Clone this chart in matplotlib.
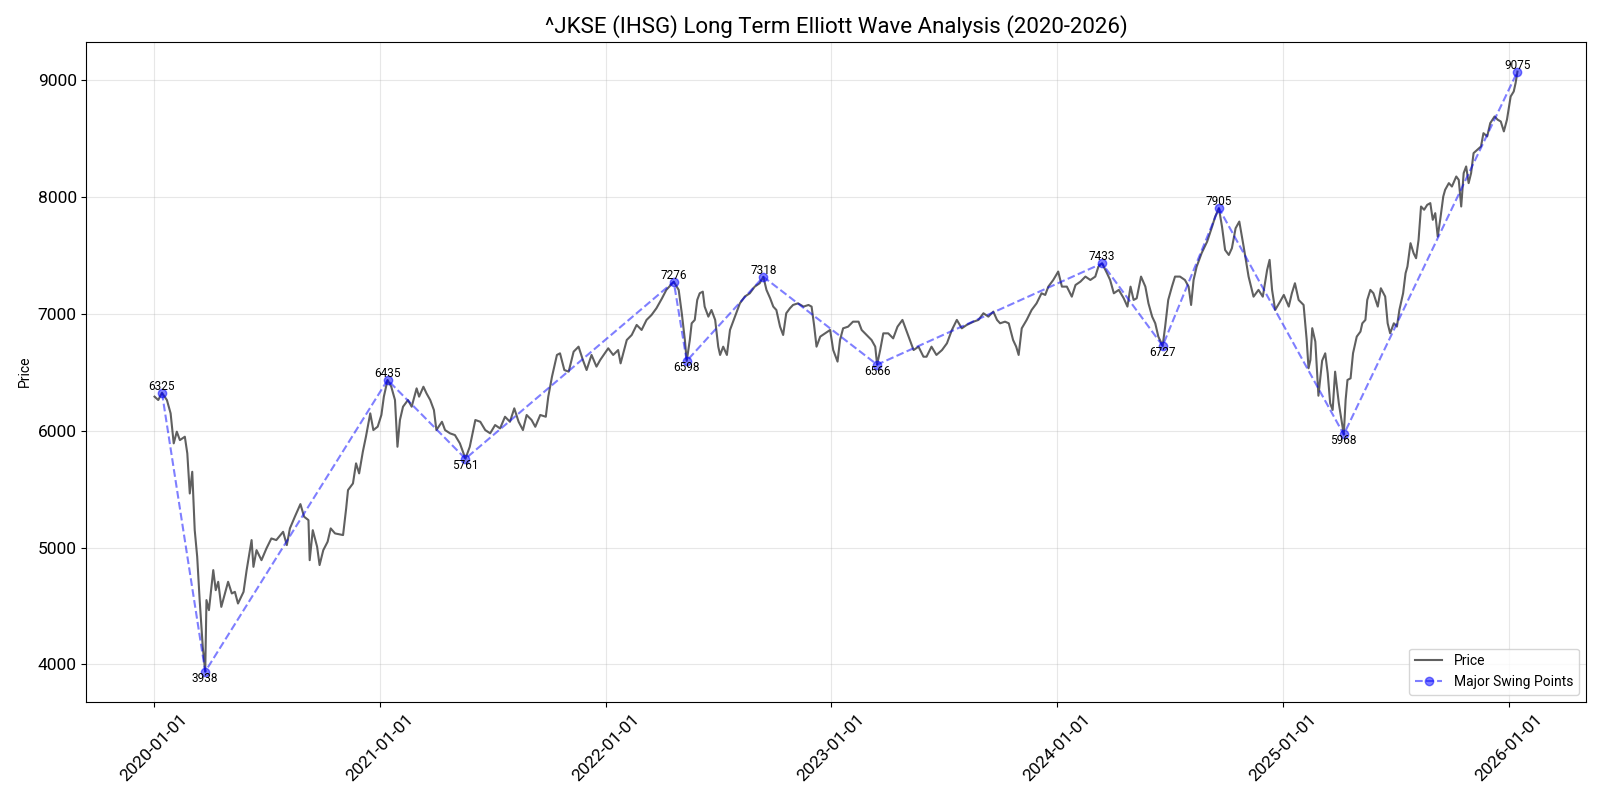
import pandas as pd
import matplotlib
matplotlib.use("Agg")
import matplotlib.pyplot as plt
import matplotlib.dates as mdates

plt.rcParams['font.family'] = ['Roboto', 'DejaVu Sans']

# price readings: days counted from 2020-01-01, closing level
start_date = "2020-01-01"
day_offset = [
    1, 7, 13, 21, 27, 32, 37, 42, 50, 54, 58, 62, 66, 70, 74, 79, 83, 85, 89, 96,
    100, 104, 109, 120, 126, 131, 136, 145, 150, 158, 161, 166, 174, 182, 190, 198,
    209, 215, 220, 228, 237, 243, 250, 252, 257, 264, 268, 274, 281, 286, 293, 306,
    311, 314, 322, 327, 332, 338, 343, 350, 355, 362, 368, 372, 378,
    384, 390, 394, 398, 403, 411, 417, 425, 429, 436, 441, 447, 453, 457, 466, 471,
    479, 487, 495, 504, 511, 520, 528, 536, 544, 552, 560, 568, 576, 583, 590, 597,
    603, 611, 617, 625, 634, 638, 644, 652, 657, 664, 671, 679, 687, 694, 700, 708,
    716, 722, 735, 743, 751, 755, 765, 773, 781, 789, 797, 805, 813, 822, 829, 841,
    849, 854, 859, 862, 867, 870, 875, 879, 883, 888, 891, 897, 902, 908, 913, 916,
    921, 927, 932, 940, 948, 956, 964, 972, 980, 986, 991, 997, 1002, 1007, 1013,
    1018, 1023, 1029, 1034, 1042, 1051, 1059, 1064, 1068, 1072, 1078, 1086, 1094,
    1099, 1106, 1110, 1115, 1123, 1131, 1140, 1145, 1153, 1161, 1167, 1170, 1175,
    1180, 1188, 1196, 1203, 1211, 1218, 1223, 1229, 1237, 1245, 1250, 1258, 1266,
    1275, 1283, 1291, 1299, 1307, 1315, 1326, 1334, 1342, 1350, 1358, 1364, 1369,
    1377, 1383, 1390, 1395, 1399, 1404, 1412, 1420, 1428, 1436, 1442, 1447, 1455,
    1463, 1469, 1477, 1485, 1491, 1499, 1507, 1515, 1523, 1528, 1534, 1542, 1547,
    1553, 1561, 1569, 1575, 1580, 1585, 1590, 1597, 1604, 1609, 1615, 1620, 1625,
    1632, 1636, 1641, 1647, 1652, 1660, 1668, 1674, 1678, 1682, 1687, 1695, 1704,
    1712, 1717, 1723, 1728, 1733, 1739, 1744, 1750, 1756, 1763, 1771, 1779, 1787,
    1794, 1801, 1805, 1809, 1814, 1822, 1828, 1836, 1841, 1846, 1852, 1860, 1865,
    1868, 1871, 1874, 1879, 1882, 1884, 1890, 1895, 1899, 1903, 1907, 1911, 1917,
    1925, 1928, 1931, 1936, 1940, 1946, 1952, 1955, 1960, 1963, 1968, 1973, 1980,
    1985, 1992, 1996, 2000, 2006, 2011, 2015, 2021, 2025, 2028, 2033, 2038, 2042,
    2046, 2050, 2055, 2060, 2065, 2069, 2073, 2077, 2081, 2086, 2089, 2095, 2100,
    2107, 2111, 2115, 2119, 2123, 2127, 2131, 2135, 2141, 2147, 2151, 2157, 2162,
    2169, 2174, 2179, 2184, 2189, 2195, 2200, 2203, 2206,
]
close_price = [
    6292, 6263, 6325, 6263, 6149, 5892, 5992, 5920, 5949, 5806, 5463, 5649, 5149, 4921, 4550, 4150, 3938, 4550, 4464, 4807,
    4635, 4707, 4492, 4707, 4607, 4621, 4521, 4621, 4807, 5064, 4835, 4978, 4892, 4992, 5078, 5064,
    5135, 5021, 5164, 5264, 5372, 5264, 5235, 4892, 5149, 5007, 4850, 4978, 5050, 5164, 5121, 5107,
    5335, 5492, 5549, 5721, 5635, 5821, 5949, 6149, 6006, 6035, 6135, 6292, 6435,
    6377, 6263, 5863, 6092, 6206, 6263, 6206, 6363, 6292, 6377, 6320, 6263, 6177, 6006, 6077, 6006,
    5978, 5963, 5892, 5761, 5863, 6092, 6077, 6006, 5978, 6049, 6020, 6120, 6077, 6192, 6077, 6006,
    6135, 6092, 6034, 6135, 6120, 6292, 6463, 6649, 6663, 6520, 6506, 6677, 6720, 6606, 6520, 6649,
    6549, 6606, 6706, 6649, 6691, 6577, 6777, 6820, 6906, 6863, 6949, 6991, 7049, 7134, 7206, 7276,
    7206, 7006, 6777, 6598, 6777, 6920, 6949, 7120, 7177, 7191, 7063, 6977, 7034, 6949, 6720, 6649,
    6720, 6649, 6863, 6977, 7091, 7149, 7177, 7234, 7263, 7318, 7206, 7134, 7063, 7034, 6891,
    6820, 7006, 7049, 7077, 7091, 7063, 7077, 7063, 6906, 6720, 6806, 6834, 6863,
    6691, 6592, 6777, 6877, 6891, 6934, 6934, 6863, 6820, 6777, 6720, 6566, 6691,
    6834, 6834, 6791, 6891, 6949, 6849, 6777, 6691, 6720, 6634, 6634, 6720, 6649,
    6691, 6749, 6863, 6949, 6877, 6906, 6934, 6949, 7006, 6977, 7020, 6949, 6920,
    6934, 6920, 6777, 6720, 6649, 6877, 6949, 7034, 7091, 7177, 7163, 7234, 7291,
    7363, 7234, 7234, 7148, 7248, 7277, 7320, 7291, 7320, 7405, 7433, 7348, 7291,
    7177, 7206, 7134, 7063, 7234, 7120, 7134, 7320, 7234, 7091, 6977, 6920, 6806,
    6727, 6891, 7120, 7234, 7320, 7320, 7291, 7234, 7077, 7291, 7405, 7520, 7620,
    7748, 7834, 7905, 7748, 7548, 7505, 7563, 7734, 7791, 7577, 7320, 7148, 7206,
    7148, 7377, 7463, 7206, 7034, 7106, 7163, 7063, 7177, 7263, 7120, 7077, 6778,
    6535, 6606, 6878, 6763, 6492, 6300, 6600, 6663, 6492, 6235, 6178, 6506, 6235,
    5968, 6264, 6435, 6449, 6664, 6806, 6849, 6920, 6949, 7120, 7206, 7177, 7063,
    7220, 7149, 6920, 6835, 6920, 6892, 7035, 7177, 7349, 7406, 7606, 7520, 7477,
    7634, 7920, 7892, 7934, 7949, 7806, 7863, 7663, 7806, 8006, 8063, 8120, 8091,
    8177, 8148, 7920, 8206, 8263, 8120, 8206, 8377, 8406, 8434, 8548, 8520, 8634,
    8691, 8663, 8648, 8563, 8663, 8862, 8905, 8977, 9075,
]

# major swing points (alternating peak / trough)
swing_dates = ["2020-01-14", "2020-03-24", "2021-01-13", "2021-05-19", "2022-04-21",
               "2022-05-12", "2022-09-13", "2023-03-16", "2024-03-14", "2024-06-20",
               "2024-09-19", "2025-04-09", "2026-01-15"]
swing_values = [6325, 3938, 6435, 5761, 7276, 6598, 7318, 6566, 7433, 6727, 7905, 5968, 9075]
swing_type = ["peak", "trough", "peak", "trough", "peak", "trough", "peak",
              "trough", "peak", "trough", "peak", "trough", "peak"]

price_dates = pd.Timestamp(start_date) + pd.to_timedelta(day_offset, unit="D")
swing_dt = pd.to_datetime(swing_dates)

fig, ax = plt.subplots(figsize=(16, 8), dpi=100)
ax.plot(price_dates, close_price, color="#333333", alpha=0.78, linewidth=1.5, label="Price")
ax.plot(swing_dt, swing_values, "o--", color="blue", alpha=0.5, label="Major Swing Points")

for d, v, t in zip(swing_dt, swing_values, swing_type):
    ax.text(d, v, str(v), ha="center", va="bottom" if t == "peak" else "top", fontsize=8.5)

ax.set_title("^JKSE (IHSG) Long Term Elliott Wave Analysis (2020-2026)", fontsize=16)
ax.set_ylabel("Price", fontsize=10)
ax.xaxis.set_major_locator(mdates.YearLocator())
ax.xaxis.set_major_formatter(mdates.DateFormatter("%Y-%m-%d"))
ax.tick_params(axis="both", labelsize=12.5)
plt.setp(ax.get_xticklabels(), rotation=45)
ax.grid(True, alpha=0.3)
ax.legend(loc="lower right", fontsize=10)

fig.subplots_adjust(left=0.054, right=0.991, top=0.948, bottom=0.123)
fig.savefig("out.png")
